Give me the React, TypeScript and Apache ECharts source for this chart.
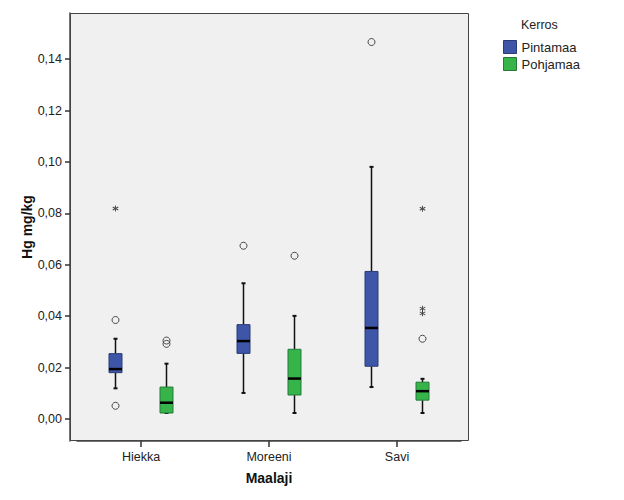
import React, { useEffect, useRef } from "react";
import * as echarts from "echarts";

const categories = ["Hiekka", "Moreeni", "Savi"];
// [min, q1, median, q3, max]
const pintamaaBox = [
  [0.0119, 0.018, 0.0194, 0.0254, 0.0312],
  [0.0101, 0.0255, 0.0303, 0.0367, 0.0528],
  [0.0124, 0.0205, 0.0354, 0.0574, 0.0981],
];
const pohjamaaBox = [
  [0.0023, 0.0023, 0.0063, 0.0124, 0.0215],
  [0.0023, 0.0093, 0.0157, 0.0271, 0.0401],
  [0.0023, 0.0073, 0.0108, 0.0143, 0.0156],
];
const pintamaaOutliers = [[0, 0.0385], [0, 0.0051], [1, 0.0674], [2, 0.1467]];
const pintamaaExtremes = [[0, 0.0819]];
const pohjamaaOutliers = [[0, 0.0305], [0, 0.0292], [1, 0.0635], [2, 0.0312]];
const pohjamaaExtremes = [[2, 0.0818], [2, 0.0429], [2, 0.0411]];
const yTicks = [0, 0.02, 0.04, 0.06, 0.08, 0.1, 0.12, 0.14];

const BLUE = "#3e56a7";
const BLUE_BORDER = "#2a3b75";
const GREEN = "#36b44a";
const GREEN_BORDER = "#24783a";
const FONT = "'Liberation Sans', Arial, sans-serif";
const ASTERISK =
  "path://M-0.15 -1 L0.15 -1 L0.15 1 L-0.15 1 Z M0.791 -0.63 L0.941 -0.37 L-0.791 0.63 L-0.941 0.37 Z M-0.941 -0.37 L-0.791 -0.63 L0.941 0.37 L0.791 0.63 Z";

function boxRender(offset: number, fill: string, stroke: string) {
  return (params: any, api: any) => {
    const idx = api.value(0);
    const p = (i: number) => api.coord([idx, api.value(i)]);
    const pMin = p(1), pQ1 = p(2), pMed = p(3), pQ3 = p(4), pMax = p(5);
    const cx = pMin[0] + offset;
    const hw = 6.5;
    const lineStyle = { stroke: "#111", lineWidth: 1.5 };
    return {
      type: "group",
      children: [
        { type: "line", shape: { x1: cx, y1: pQ3[1], x2: cx, y2: pMax[1] }, style: lineStyle },
        { type: "line", shape: { x1: cx, y1: pQ1[1], x2: cx, y2: pMin[1] }, style: lineStyle },
        { type: "line", shape: { x1: cx - 2, y1: pMax[1], x2: cx + 2, y2: pMax[1] }, style: { stroke: "#111", lineWidth: 2 } },
        { type: "line", shape: { x1: cx - 2, y1: pMin[1], x2: cx + 2, y2: pMin[1] }, style: { stroke: "#111", lineWidth: 2 } },
        {
          type: "rect",
          shape: { x: cx - hw, y: pQ3[1], width: hw * 2, height: pQ1[1] - pQ3[1] },
          style: { fill, stroke, lineWidth: 1 },
        },
        { type: "line", shape: { x1: cx - hw, y1: pMed[1], x2: cx + hw, y2: pMed[1] }, style: { stroke: "#000", lineWidth: 2.5 } },
      ],
    };
  };
}

export default function App() {
  const ref = useRef<HTMLDivElement>(null);
  useEffect(() => {
    const chart = echarts.init(ref.current!, undefined, { renderer: "svg" });
    const OFF = 25.5;
    const mk = (arr: number[][]) => arr.map((b, i) => [i, ...b]);
    chart.setOption({
      animation: false,
      backgroundColor: "#ffffff",
      textStyle: { fontFamily: FONT },
      title: {
        text: "Kerros",
        left: 521,
        top: 18,
        padding: 0,
        textStyle: { fontSize: 12.5, fontWeight: "normal", color: "#222", fontFamily: FONT },
      },
      legend: {
        orient: "vertical",
        left: 503,
        top: 40,
        padding: 0,
        itemWidth: 13,
        itemHeight: 13,
        itemGap: 3,
        icon: "rect",
        textStyle: { fontSize: 13, color: "#222", fontFamily: FONT, lineHeight: 13 },
        data: [
          { name: "Pintamaa", itemStyle: { color: BLUE, borderColor: BLUE_BORDER, borderWidth: 1 } },
          { name: "Pohjamaa", itemStyle: { color: GREEN, borderColor: GREEN_BORDER, borderWidth: 1 } },
        ],
      },
      graphic: [
        {
          type: "rect",
          z: -10,
          shape: { x: 70.5, y: 13.5, width: 398, height: 427 },
          style: { fill: "#f0f0f0", stroke: "#444", lineWidth: 1 },
        },
      ],
      grid: { left: 77, top: 13, width: 384, height: 428 },
      xAxis: {
        type: "category",
        data: categories,
        name: "Maalaji",
        nameLocation: "middle",
        nameGap: 30,
        nameMoveOverlap: false,
        nameTextStyle: { fontSize: 14, fontWeight: "bold", color: "#111", fontFamily: FONT },
        axisLine: { show: true, onZero: false, lineStyle: { color: "#444", width: 1.5 } },
        axisTick: { show: true, alignWithLabel: true, inside: false, length: 6, lineStyle: { color: "#333", width: 1.5 } },
        axisLabel: { fontSize: 12.5, color: "#222", margin: 9, fontFamily: FONT },
        splitLine: { show: false },
      },
      yAxis: {
        type: "value",
        min: -0.0086,
        max: 0.158,
        offset: 7,
        name: "Hg mg/kg",
        nameLocation: "middle",
        nameGap: 36,
        nameMoveOverlap: false,
        nameTextStyle: { fontSize: 14, fontWeight: "bold", color: "#111", fontFamily: FONT },
        axisLine: { show: true, lineStyle: { color: "#444", width: 1.5 } },
        axisTick: { show: true, length: 5, customValues: yTicks, lineStyle: { color: "#333", width: 1.5 } },
        axisLabel: {
          fontSize: 12.5,
          color: "#222",
          margin: 8,
          fontFamily: FONT,
          customValues: yTicks,
          formatter: (v: number) => v.toFixed(2).replace(".", ","),
        },
        splitLine: { show: false },
      },
      series: [
        {
          name: "Pintamaa",
          type: "custom",
          itemStyle: { color: BLUE, borderColor: BLUE_BORDER },
          encode: { x: 0, y: [1, 2, 3, 4, 5] },
          renderItem: boxRender(-OFF, BLUE, BLUE_BORDER),
          data: mk(pintamaaBox),
        },
        {
          name: "Pohjamaa",
          type: "custom",
          itemStyle: { color: GREEN, borderColor: GREEN_BORDER },
          encode: { x: 0, y: [1, 2, 3, 4, 5] },
          renderItem: boxRender(OFF, GREEN, GREEN_BORDER),
          data: mk(pohjamaaBox),
        },
        {
          name: "Pintamaa outliers",
          type: "scatter",
          symbol: "circle",
          symbolSize: 7,
          symbolOffset: [-OFF, 0],
          itemStyle: { color: "rgba(0,0,0,0)", borderColor: "#222", borderWidth: 1 },
          data: pintamaaOutliers,
        },
        {
          name: "Pohjamaa outliers",
          type: "scatter",
          symbol: "circle",
          symbolSize: 7,
          symbolOffset: [OFF, 0],
          itemStyle: { color: "rgba(0,0,0,0)", borderColor: "#222", borderWidth: 1 },
          data: pohjamaaOutliers,
        },
        {
          name: "Pintamaa extremes",
          type: "scatter",
          symbol: ASTERISK,
          symbolSize: 6,
          symbolOffset: [-OFF, 0],
          itemStyle: { color: "#222" },
          data: pintamaaExtremes,
        },
        {
          name: "Pohjamaa extremes",
          type: "scatter",
          symbol: ASTERISK,
          symbolSize: 6,
          symbolOffset: [OFF, 0],
          itemStyle: { color: "#222" },
          data: pohjamaaExtremes,
        },
      ],
    });
    return () => chart.dispose();
  }, []);
  return (
    <div
      ref={ref}
      style={{ position: "absolute", left: 0, top: 0, width: 624, height: 500, background: "#fff" }}
    />
  );
}
